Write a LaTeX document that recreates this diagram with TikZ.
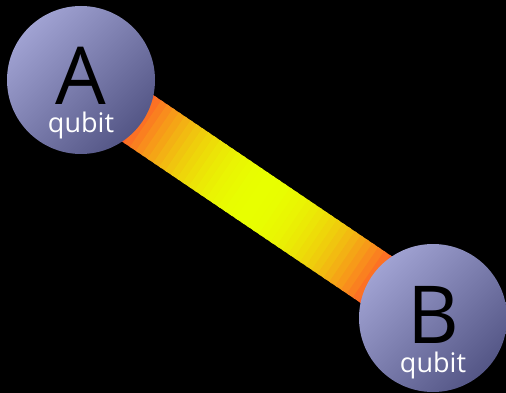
\documentclass[tikz,border=0pt]{standalone}
\usepackage{fontspec}
\usepackage{tikz}
\usetikzlibrary{calc}
\newfontfamily\qfont{Open Sans}

\definecolor{bondmid}{RGB}{232,255,0}
\definecolor{bondend}{RGB}{255,96,40}
\definecolor{qlight}{RGB}{160,162,210}
\definecolor{qdark}{RGB}{84,86,134}

\tikzset{
  qubit/.style={circle, minimum size=148pt, inner sep=0pt,
    top color=qlight, bottom color=qdark, shading angle=45},
  bigname/.style={anchor=base, text=black, inner sep=0pt, text depth=0pt,
    font=\qfont\fontsize{80}{80}\selectfont},
  smallname/.style={anchor=base, text=white, inner sep=0pt, text height=20pt,
    font=\qfont\fontsize{27}{27}\selectfont}
}

\begin{document}
\begin{tikzpicture}[x=1pt, y=-1pt]
    \fill[black] (0,0) rectangle (506,393);
    \useasboundingbox (0,0) rectangle (506,393);

    \coordinate (A) at (81,80);
    \coordinate (B) at (433,318);

    % the bond
    \foreach \i in {0,...,59} {
      \pgfmathsetmacro\p{max(0,100-100*((\i/59-0.5)/0.35)^2)}
      \draw[line width=56pt, bondmid!\p!bondend]
        ($(A)!\i/60!(B)$) -- ($(A)!{(\i+1.4)/60}!(B)$);
    }

    \node[qubit] (qa) at (A) {};
    \node[qubit] (qb) at (B) {};

    \node[bigname] (na) at ([yshift=-25pt]qa.center) {A};
    \node[smallname] (sa) at ([yshift=-52pt]qa.center) {qubit};
    \node[bigname] (nb) at ([yshift=-25pt]qb.center) {B};
    \node[smallname] (sb) at ([yshift=-54pt]qb.center) {qubit};
\end{tikzpicture}
\end{document}
